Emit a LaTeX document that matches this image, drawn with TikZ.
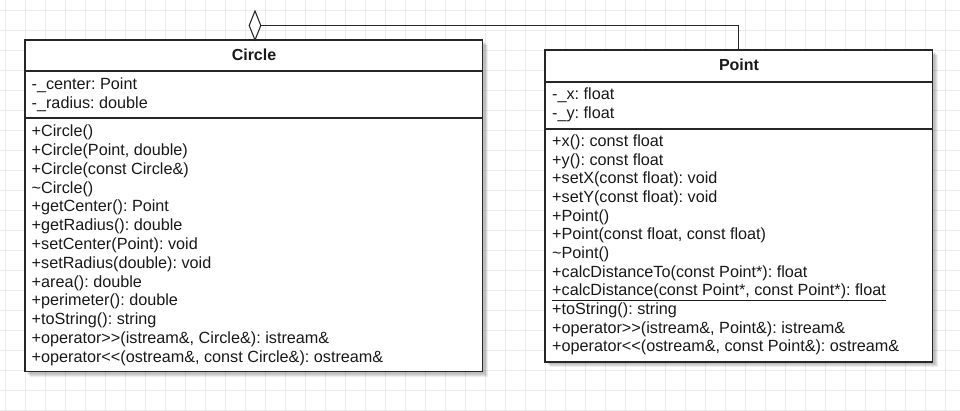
\documentclass[tikz,border=0pt]{standalone}
\usepackage{fontspec}
\setmainfont{Liberation Sans}
\frenchspacing
\begin{document}
\begin{tikzpicture}[x=1pt,y=-1pt,
  gridline/.style={draw=black!8,line width=0.8pt},
  umlbox/.style={draw=black!85,line width=1.1pt,fill=white},
  sepline/.style={draw=black!85,line width=1.1pt},
  shadowbox/.style={fill=black,opacity=0.07,draw=none},
  member/.style={anchor=base west,inner sep=0pt,font=\frenchspacing\fontsize{16.2}{19}\selectfont,text=black!90},
  title/.style={anchor=base,inner sep=0pt,font=\fontsize{16}{19}\selectfont\bfseries,text=black!90},
  conn/.style={draw=black!85,line width=1.1pt},
  aggr/.style={draw=black!85,line width=1.1pt,fill=white,line join=miter}]
\useasboundingbox (0,0) rectangle (960,411);
\fill[white] (0,0) rectangle (960,411);
% grid
\foreach \gx in {5.7,25.7,...,960} {\draw[gridline] (\gx,0) -- (\gx,411);}
\foreach \gy in {10.5,30.5,...,411} {\draw[gridline] (0,\gy) -- (960,\gy);}
% shadows
\foreach \s in {2,3,4,5} {
  \fill[shadowbox] (25+\s,40+\s) rectangle (482.5+\s,371.5+\s);
  \fill[shadowbox] (545+\s,50+\s) rectangle (932.5+\s,362+\s);
}
% Circle box
\draw[umlbox] (25,40) rectangle (482.5,371.5);
\coordinate (circleTop) at (255,40);
\draw[sepline] (25,71) -- (482.5,71);
\draw[sepline] (25,118) -- (482.5,118);
\node[title] (ctitle) at (254,61) {Circle};
\node[member] (ca1) at (31.5,89.3) {-\_center: Point};
\node[member] (ca2) at (31.5,108.3) {-\_radius: double};
\foreach \t [count=\i from 0] in {
  {+Circle()},
  {+Circle(Point, double)},
  {+Circle(const Circle\&)},
  {\char`\~Circle()},
  {+getCenter(): Point},
  {+getRadius(): double},
  {+setCenter(Point): void},
  {+setRadius(double): void},
  {+area(): double},
  {+perimeter(): double},
  {+toString(): string},
  {+operator>{}>(istream\&, Circle\&): istream\&},
  {+operator<{}<(ostream\&, const Circle\&): ostream\&}} {
  \node[member] (cm\i) at (31.5,{136.7+18.8*\i}) {\t};
}
% Point box
\draw[umlbox] (545,50) rectangle (932.5,362);
\coordinate (pointTop) at (738.5,50);
\draw[sepline] (545,82) -- (932.5,82);
\draw[sepline] (545,129) -- (932.5,129);
\node[title] (ptitle) at (739,70.7) {Point};
\node[member] (pa1) at (552,99.3) {-\_x: float};
\node[member] (pa2) at (552,118.3) {-\_y: float};
\foreach \t [count=\i from 0] in {
  {+x(): const float},
  {+y(): const float},
  {+setX(const float): void},
  {+setY(const float): void},
  {+Point()},
  {+Point(const float, const float)},
  {\char`\~Point()},
  {+calcDistanceTo(const Point*): float},
  {\underline{+calcDistance(const Point*, const Point*): float}},
  {+toString(): string},
  {+operator>{}>(istream\&, Point\&): istream\&},
  {+operator<{}<(ostream\&, const Point\&): ostream\&}} {
  \node[member] (pm\i) at (552,{146.7+18.64*\i}) {\t};
}
% aggregation
\coordinate (dTop) at (255,11);
\coordinate (dRight) at (260.8,25.5);
\coordinate (dLeft) at (249.2,25.5);
\coordinate (bend) at (738.5,25.5);
\draw[conn] (dRight) -- (bend) -- (pointTop);
\draw[aggr] (circleTop) -- (dLeft) -- (dTop) -- (dRight) -- cycle;
\end{tikzpicture}
\end{document}
